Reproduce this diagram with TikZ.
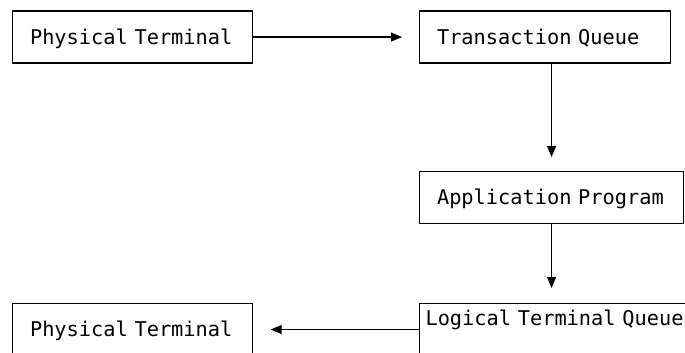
\documentclass[tikz,border=0pt]{standalone}
\usepackage{fontspec}
\newfontfamily\boxfont{DejaVu Sans Mono}
\newcommand\boxsize{\boxfont\fontsize{20.3}{24}\selectfont}
\usetikzlibrary{arrows.meta}
\begin{document}
\begin{tikzpicture}[x=1pt,y=-1pt,every node/.style={shape=rectangle,draw=black,line width=1.1pt,anchor=north west,align=left,inner xsep=17.5pt,inner ysep=0pt,text height=33pt,text depth=19pt,font=\boxsize},
    arw/.style={line width=1.1pt,-{Triangle[length=11pt,width=9pt]}}]
        \useasboundingbox (0,0) rectangle (685,353);
        \clip (0,0) rectangle (685,353);
        \node[text width=204.5pt] (0) at (12,10.5) {Physical Terminal};
        \node[text width=216pt] (1) at (419,10.5) {Transaction Queue};
        \node[text width=229pt] (2) at (419,171) {Application Program};
        \node[text width=280pt,inner xsep=6pt,text height=22pt,text depth=30pt] (3) at (419,303) {Logical Terminal Queue};
        \node[text width=204.5pt] (4) at (12,303) {Physical Terminal};
        \draw (0) edge[arw,shorten >=17pt] (1);
        \draw (1.south -| 2.north) edge[arw,shorten >=14pt] (2.north);
        \draw (2.south) edge[arw,shorten >=15pt] (2.south |- 3.north);
        \draw (3.west) edge[arw,shorten >=18pt] (4.east);
      \end{tikzpicture}
\end{document}
